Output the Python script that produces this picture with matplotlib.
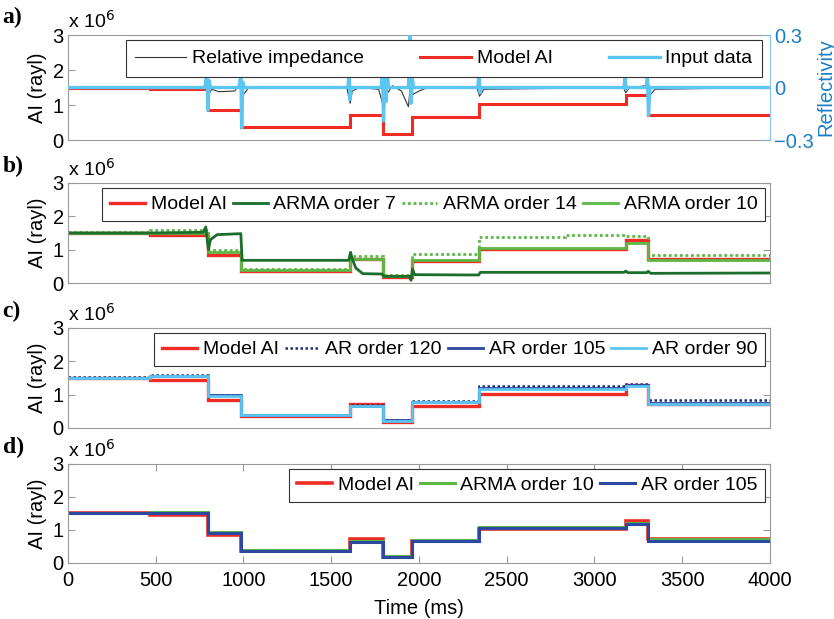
import numpy as np
import matplotlib
matplotlib.use("Agg")
import matplotlib.pyplot as plt

plt.rcParams['font.family'] = ['Liberation Sans', 'DejaVu Sans']
plt.rcParams['font.size'] = 14

# -------------------------------
# Data (AI in units of 1e6 rayl, time in ms)
# -------------------------------
layer_edges = [0, 467, 798, 988, 1605, 1795, 1960, 2342, 3178, 3305, 4000]
model_ai = [1.50, 1.45, 0.85, 0.37, 0.72, 0.17, 0.66, 1.02, 1.28, 0.72]

# panel a
relimp_t = [0, 780, 792, 800, 820, 860, 950, 978, 990, 1000, 1030, 1590, 1600, 1608, 1620,
            1660, 1770, 1790, 1800, 1815, 1850, 1900, 1940, 1955, 1965, 2000, 2050, 2330,
            2345, 2370, 3165, 3178, 3200, 3295, 3305, 3320, 3345, 4000]
relimp_v = [1.50, 1.50, 1.90, 1.30, 1.45, 1.38, 1.40, 1.60, 1.75, 1.30, 1.50, 1.50, 1.20,
            1.05, 1.40, 1.50, 1.45, 1.10, 0.90, 1.30, 1.55, 1.40, 0.95, 1.80, 1.30, 1.40,
            1.50, 1.50, 1.25, 1.45, 1.50, 1.35, 1.50, 1.55, 1.70, 1.30, 1.45, 1.50]
refl_t = [0, 780, 792, 798, 804, 812, 975, 985, 990, 996, 1005, 1595, 1602, 1607, 1614,
          1785, 1792, 1798, 1805, 1812, 1818, 1826, 1940, 1950, 1955, 1962, 1970, 2335,
          2342, 2348, 2356, 3168, 3175, 3181, 3188, 3295, 3302, 3308, 3316, 4000]
refl_v = [0.0, 0.0, 0.09, -0.13, 0.04, 0.0, 0.0, 0.08, -0.23, 0.03, 0.0, 0.0, 0.09, -0.07,
          0.0, 0.0, 0.10, -0.19, 0.05, -0.08, 0.12, 0.0, 0.0, 0.30, -0.09, 0.05, 0.0, 0.0,
          0.08, -0.03, 0.0, 0.0, 0.06, -0.01, 0.0, 0.0, 0.06, -0.16, 0.0, 0.0]

# panel b
arma7_t = [0, 467, 770, 785, 800, 812, 850, 985, 992, 1600, 1610, 1618, 1640, 1680, 1790,
           1800, 1945, 1955, 1963, 1975, 2340, 2350, 3170, 3178, 3190, 3298, 3306, 3320, 4000]
arma7_v = [1.50, 1.50, 1.52, 1.68, 1.00, 1.30, 1.45, 1.48, 0.68, 0.68, 0.92, 0.75, 0.45,
           0.28, 0.27, 0.20, 0.20, 0.08, 0.42, 0.25, 0.24, 0.32, 0.32, 0.36, 0.31, 0.31,
           0.35, 0.29, 0.30]
arma14 = [1.52, 1.58, 0.98, 0.42, 0.80, 0.25, 0.87, 1.38, 1.40, 0.84]
arma14_hi = [2830, 3178, 1.45]
arma10_b = [1.50, 1.50, 0.92, 0.38, 0.72, 0.20, 0.70, 1.05, 1.20, 0.68]

# panel c
ar120 = [1.52, 1.60, 1.00, 0.40, 0.68, 0.24, 0.82, 1.27, 1.33, 0.83]
ar105_c = [1.51, 1.57, 0.98, 0.39, 0.67, 0.23, 0.79, 1.20, 1.28, 0.76]
ar90 = [1.50, 1.55, 0.96, 0.38, 0.66, 0.22, 0.77, 1.16, 1.25, 0.73]

# panel d
arma10_d = [1.52, 1.55, 0.95, 0.38, 0.66, 0.20, 0.70, 1.10, 1.22, 0.72]
ar105_d = [1.50, 1.50, 0.92, 0.37, 0.65, 0.18, 0.68, 1.05, 1.18, 0.68]

red = '#ee2c24'
cyan = '#5cc6f2'
dkgreen = '#1c6e2c'
ltgreen = '#5bb845'
navy = '#1f2d6e'
blue = '#2d48a0'
spine_c = '#9a9a9a'

fig = plt.figure(figsize=(8.34, 6.19), dpi=100)
left, width = 0.0815, 0.8417
pos = [(0.7738, 0.1696), (0.5428, 0.1616), (0.3086, 0.1616), (0.0905, 0.1600)]
axes = [fig.add_axes([left, b, width, h]) for b, h in pos]


def style(ax, show_x):
    ax.set_xlim(0, 4000)
    ax.set_ylim(0, 3)
    ax.set_yticks([0, 1, 2, 3])
    for s in ax.spines.values():
        s.set_color(spine_c)
        s.set_linewidth(0.8)
    ax.tick_params(direction='in', length=5, color=spine_c, labelsize=14.5,
                   top=show_x, right=True, pad=3)
    if show_x:
        ax.set_xticks(np.arange(0, 4001, 500))
        ax.tick_params(axis='x', pad=6)
    else:
        ax.set_xticks([])
    ax.set_ylabel('AI (rayl)', fontsize=14.5, labelpad=4)
    ax.text(0.0, 1.03, r'x 10$^6$', transform=ax.transAxes, fontsize=14,
            ha='left', va='bottom')


def legend(ax, x1, y1, ncol, **kw):
    lg = ax.legend(loc='upper right', bbox_to_anchor=(x1, y1), ncol=ncol, fontsize=14,
                   frameon=True, fancybox=False, edgecolor='#333333', framealpha=1,
                   borderpad=0.4, handletextpad=0.3, borderaxespad=0, **kw)
    lg.get_frame().set_linewidth(0.8)
    return lg


# -------------------------------
# a) relative impedance vs input reflectivity
# -------------------------------
ax = axes[0]
style(ax, False)
ax.plot(relimp_t, relimp_v, color='#333333', lw=0.8, label='Relative impedance')
ax.stairs(model_ai, layer_edges, color=red, lw=2.2, baseline=None, label='Model AI')
axr = ax.twinx()
axr.plot(refl_t, refl_v, color=cyan, lw=2.4, label='Input data')
axr.set_ylim(-0.3, 0.3)
axr.set_yticks([-0.3, 0, 0.3])
axr.set_yticklabels(['\u22120.3', '0', '0.3'])
axr.tick_params(direction='in', length=5, color='#6fb7e6', labelcolor='#1b7fc8',
                labelsize=14.5, pad=3)
axr.spines['right'].set_color('#8cc7ef')
for k in ['left', 'top', 'bottom']:
    axr.spines[k].set_visible(False)
axr.set_ylabel('Reflectivity', color='#1b7fc8', fontsize=14.5, labelpad=2)
h1, l1 = ax.get_legend_handles_labels()
h2, l2 = axr.get_legend_handles_labels()
lg = axr.legend(h1 + h2, l1 + l2, loc='upper right', bbox_to_anchor=(0.989, 0.952),
                ncol=3, fontsize=14, frameon=True, fancybox=False, edgecolor='#333333',
                framealpha=1, borderpad=0.5, handletextpad=0.3, borderaxespad=0,
                handlelength=2.6, columnspacing=2.9)
lg.get_frame().set_linewidth(0.8)

# -------------------------------
# b) ARMA models
# -------------------------------
ax = axes[1]
style(ax, False)
ax.stairs(model_ai, layer_edges, color=red, lw=2.4, baseline=None, label='Model AI')
ax.plot(arma7_t, arma7_v, color=dkgreen, lw=2.0, label='ARMA order 7')
arma14_edges = layer_edges[:8] + [arma14_hi[0]] + layer_edges[8:]
arma14_vals = arma14[:7] + [arma14[7], arma14_hi[2]] + arma14[8:]
ax.stairs(arma14_vals, arma14_edges, color=ltgreen, lw=2.0, ls=(0, (1, 1)), baseline=None,
          label='ARMA order 14')
ax.stairs(arma10_b, layer_edges, color=ltgreen, lw=2.0, baseline=None, label='ARMA order 10')
legend(ax, 0.993, 0.95, 4, handlelength=1.8, columnspacing=0.3)

# -------------------------------
# c) AR models
# -------------------------------
ax = axes[2]
style(ax, False)
ax.stairs(model_ai, layer_edges, color=red, lw=2.4, baseline=None, label='Model AI')
ax.stairs(ar120, layer_edges, color=navy, lw=1.8, ls=(0, (1, 1)), baseline=None,
          label='AR order 120')
ax.stairs(ar105_c, layer_edges, color=blue, lw=2.0, baseline=None, label='AR order 105')
ax.stairs(ar90, layer_edges, color=cyan, lw=2.0, baseline=None, label='AR order 90')
legend(ax, 0.993, 0.95, 4, handlelength=1.8, columnspacing=0.3)

# -------------------------------
# d) best ARMA vs best AR
# -------------------------------
ax = axes[3]
style(ax, True)
ax.stairs(model_ai, layer_edges, color=red, lw=2.6, baseline=None, label='Model AI')
ax.stairs(arma10_d, layer_edges, color=ltgreen, lw=2.2, baseline=None, label='ARMA order 10')
ax.stairs(ar105_d, layer_edges, color=blue, lw=2.2, baseline=None, label='AR order 105')
ax.set_xlabel('Time (ms)', fontsize=14.5, labelpad=6)
legend(ax, 0.993, 0.95, 3, handlelength=1.8, columnspacing=0.3)

for a, lab in zip(axes, ['a)', 'b)', 'c)', 'd)']):
    a.text(-0.093, 1.27, lab, transform=a.transAxes, fontsize=17, fontweight='bold',
           family='Liberation Serif', ha='left', va='top')

fig.savefig('out.png', dpi=100)
